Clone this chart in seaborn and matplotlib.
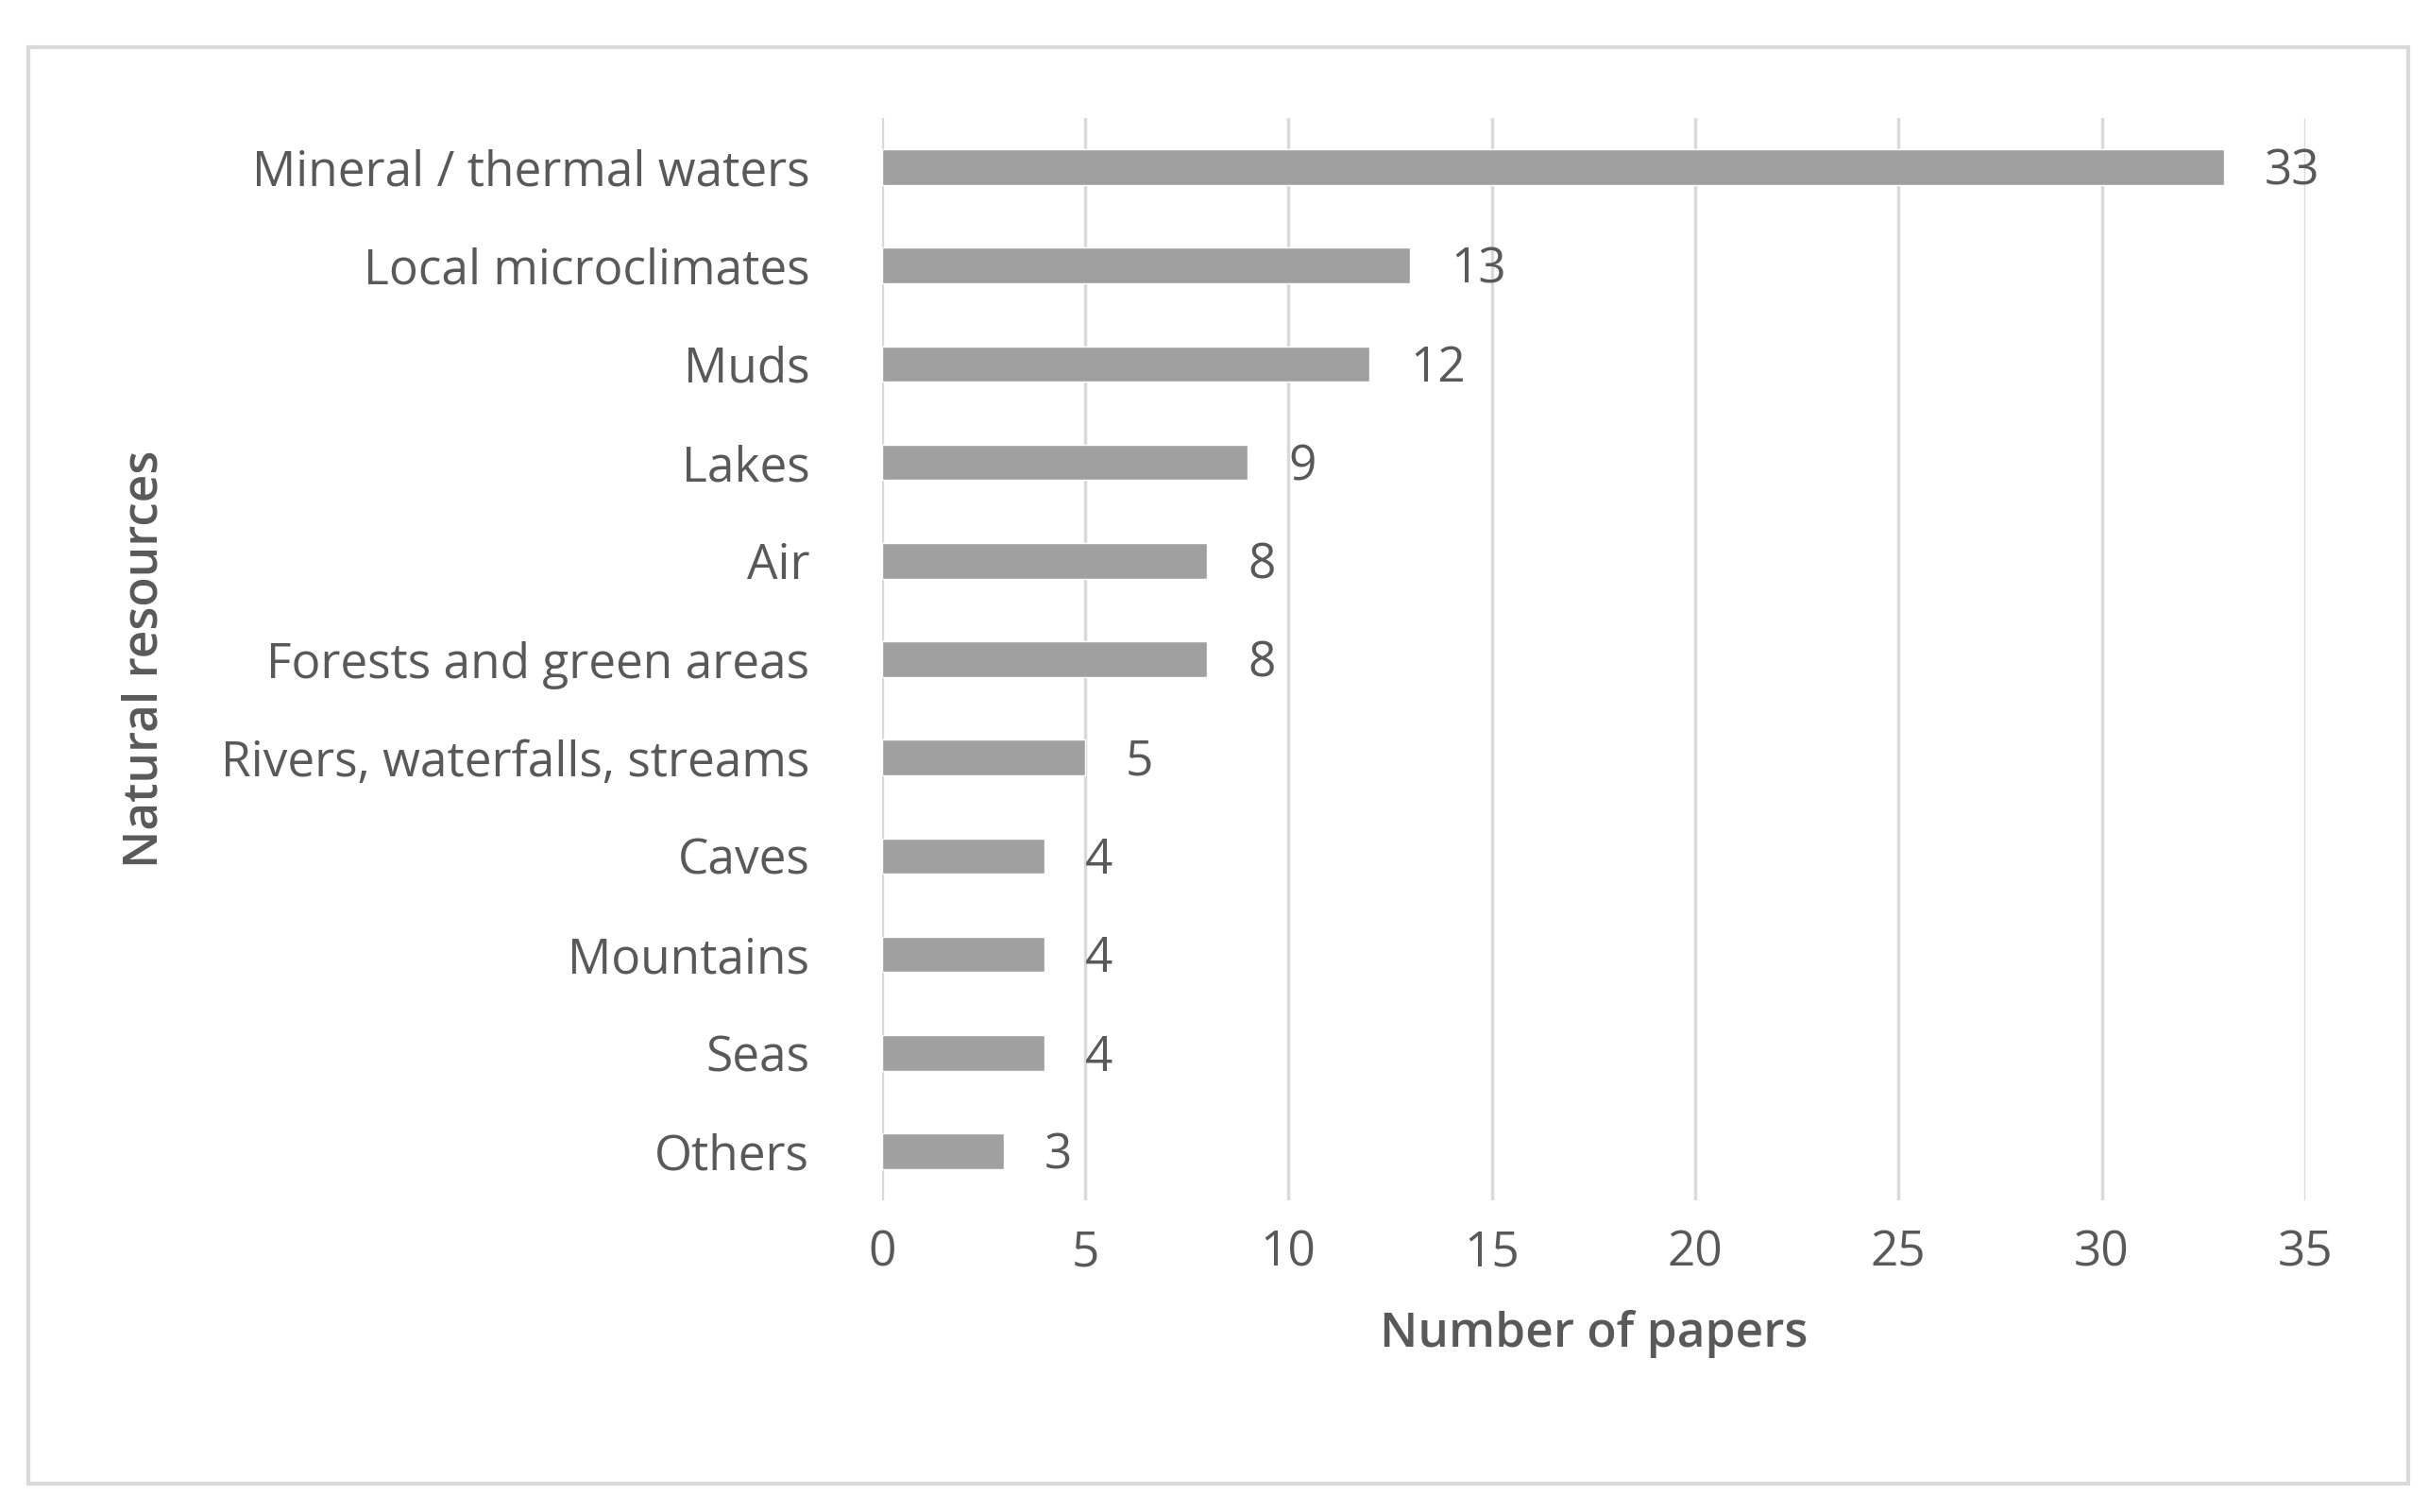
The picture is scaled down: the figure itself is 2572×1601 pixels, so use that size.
import matplotlib
matplotlib.use("Agg")
import matplotlib.pyplot as plt
import seaborn as sns
import pandas as pd
from matplotlib.patches import Rectangle

categories = ["Mineral / thermal waters", "Local microclimates", "Muds", "Lakes", "Air",
              "Forests and green areas", "Rivers, waterfalls, streams", "Caves",
              "Mountains", "Seas", "Others"]
values = [33, 13, 12, 9, 8, 8, 5, 4, 4, 4, 3]
xticks = [0, 5, 10, 15, 20, 25, 30, 35]

df = pd.DataFrame({"cat": categories, "val": values})
sns.set_theme(style="white")
plt.rcParams['font.family'] = ['Open Sans', 'DejaVu Sans']
txt = "#595959"

fig = plt.figure(figsize=(25.72, 16.01), dpi=100)
ax = fig.add_axes([0.363, 0.206, 0.586, 0.716])
sns.barplot(data=df, x="val", y="cat", color="#A0A0A0", saturation=1, width=0.36, ax=ax, orient="h")
ax.set_xlim(0, 35)
ax.set_xticks(xticks)
ax.xaxis.grid(True, color="#D9D9D9", linewidth=2.5)
ax.set_axisbelow(True)
for s in ax.spines.values():
    s.set_visible(False)
ax.tick_params(axis="both", length=0, colors=txt, labelsize=37)
ax.tick_params(axis="x", pad=22)
ax.tick_params(axis="y", pad=55)
for i, v in enumerate(values):
    ax.text(v + 1.0, i + 0.05, str(v), va="center", ha="left", fontsize=37, color=txt)
ax.set_xlabel("Number of papers", fontsize=37, color=txt, labelpad=25, fontweight="semibold")
ax.set_ylabel("Natural resources", fontsize=37, color=txt, labelpad=40, fontweight="semibold")
fig.patches.append(Rectangle((0.0115, 0.019), 0.98, 0.95, transform=fig.transFigure,
                             fill=False, edgecolor="#D9D9D9", linewidth=3))
fig.savefig("out.png", dpi=100, facecolor="white")
